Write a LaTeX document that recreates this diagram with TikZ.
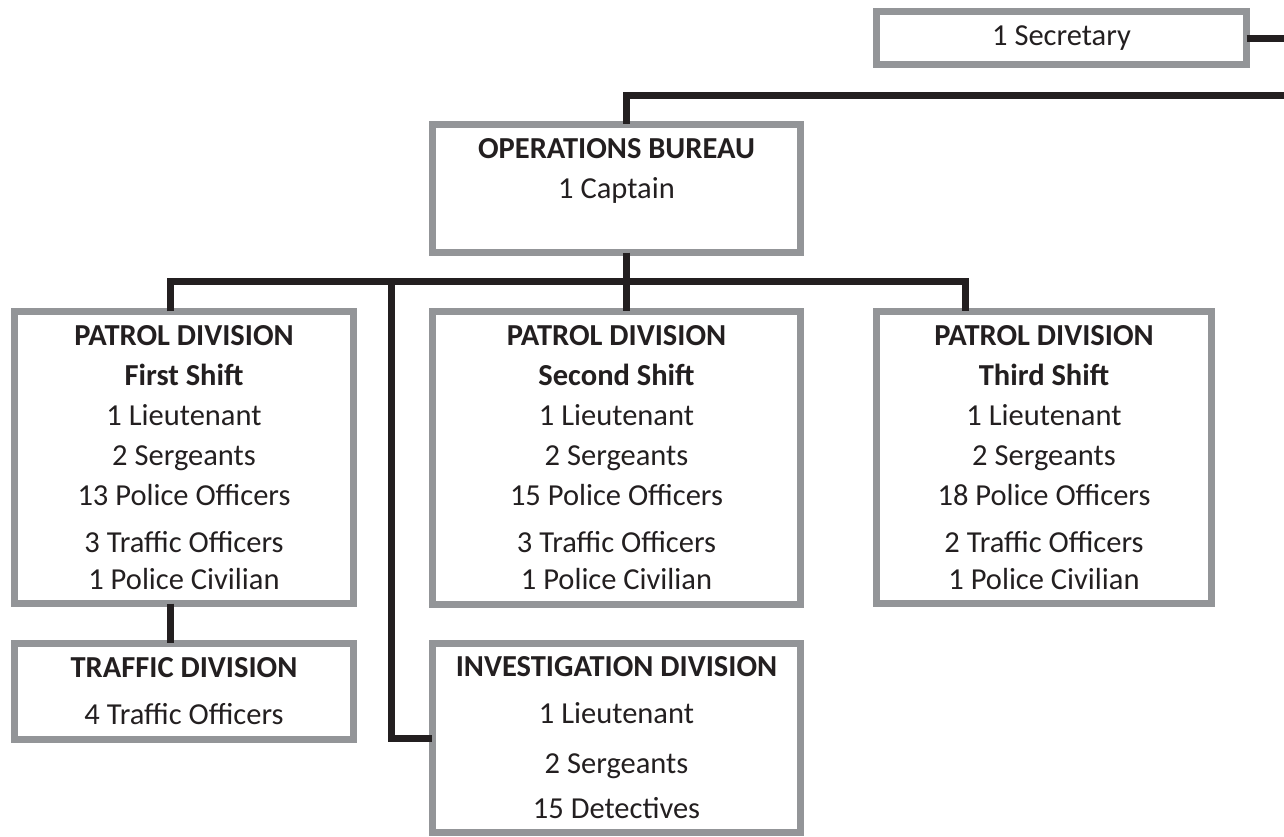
\documentclass[tikz,border=0pt]{standalone}
\usepackage{fontspec}
\setmainfont{Carlito}
\usetikzlibrary{positioning}
\definecolor{boxgray}{HTML}{939598}
\definecolor{inkblack}{HTML}{231F20}

\begin{document}
\begin{tikzpicture}[x=1pt,y=-1pt,font=\fontsize{30.5}{40}\selectfont,text=inkblack]

    % Define node styles
    \tikzstyle{unit} = [draw=boxgray, line width=6.7pt, rectangle, align=center, inner sep=0pt]
    \tikzstyle{link} = [draw=inkblack, line width=7pt]

    \useasboundingbox (0,0) rectangle (1284,836);

    % Draw nodes
    \node [unit, minimum width=370.3pt, minimum height=53.3pt] (sec) at (1061.5,38) {1 Secretary};
    \node [unit, minimum width=368.3pt, minimum height=128.3pt] (ops) at (616.5,188.5) {};
    \node [below=17pt of ops.north, align=center, inner sep=0pt] (opstext) {\textbf{OPERATIONS BUREAU}\\1 Captain};
    \node [unit, minimum width=339.3pt, minimum height=292.3pt] (p1) at (184,457.5)
        {\textbf{PATROL DIVISION}\\\textbf{First Shift}\\1 Lieutenant\\2 Sergeants\\13 Police Officers\\[7pt]3 Traffic Officers\\[-3pt]1 Police Civilian};
    \node [unit, minimum width=368.3pt, minimum height=293.3pt] (p2) at (616.5,458)
        {\textbf{PATROL DIVISION}\\\textbf{Second Shift}\\1 Lieutenant\\2 Sergeants\\15 Police Officers\\[7pt]3 Traffic Officers\\[-3pt]1 Police Civilian};
    \node [unit, minimum width=335.3pt, minimum height=292.3pt] (p3) at (1044,457.5)
        {\textbf{PATROL DIVISION}\\\textbf{Third Shift}\\1 Lieutenant\\2 Sergeants\\18 Police Officers\\[7pt]2 Traffic Officers\\[-3pt]1 Police Civilian};
    \node [unit, minimum width=339.3pt, minimum height=96.3pt] (traf) at (184,691.5)
        {\textbf{TRAFFIC DIVISION}\\[7pt]4 Traffic Officers};
    \node [unit, minimum width=368.3pt, minimum height=189.3pt] (inv) at (616.5,738)
        {\textbf{INVESTIGATION DIVISION}\\[7pt]1 Lieutenant\\[10pt]2 Sergeants\\[5pt]15 Detectives};

    % Draw connectors
    \coordinate (secend) at (1284,40);
    \coordinate (topend) at (1284,95.5);
    \coordinate (bus) at (626.5,281.5);
    \coordinate (invtap) at (391.5,281.5);
    \draw [link, shorten <=-3.35pt] (sec.east) -- (sec.east -| secend);
    \draw [link, shorten >=-3.35pt] (topend) -| ([xshift=10pt]ops.north);
    \draw [link, shorten <=-3.35pt, shorten >=-3.35pt] ([xshift=10pt]ops.south) -- ([xshift=10pt]p2.north);
    \draw [link, shorten <=-3.35pt, shorten >=-3.35pt] ([xshift=-14pt]p1.north) |- (bus) -| ([xshift=-78.5pt]p3.north);
    \draw [link, shorten >=-3.35pt] (invtap) |- (inv.west);
    \draw [link, shorten <=-3.35pt, shorten >=-3.35pt] ([xshift=-14pt]p1.south) -- ([xshift=-14pt]traf.north);

\end{tikzpicture}
\end{document}
